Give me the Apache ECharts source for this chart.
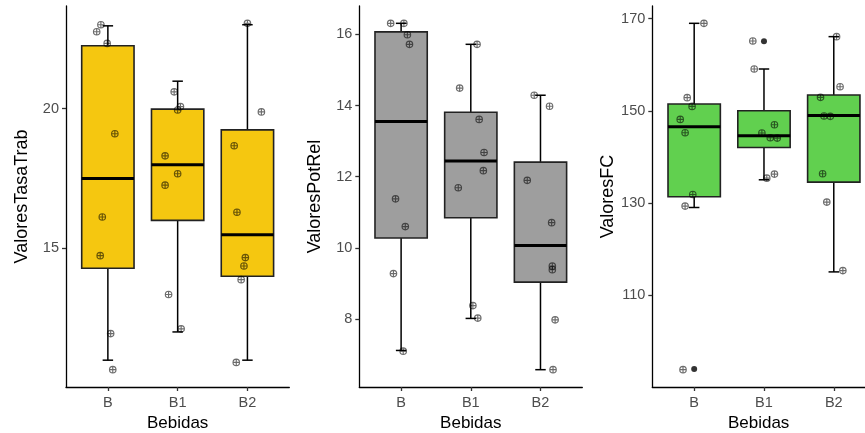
<!DOCTYPE html>
<html lang="es">
<head>
<meta charset="utf-8">
<title>Bebidas</title>
<script src="https://cdn.jsdelivr.net/npm/echarts@6/dist/echarts.min.js"></script>
<style>
  html, body { margin: 0; padding: 0; background: #fff; }
  #chart { width: 865px; height: 433px; }
</style>
</head>
<body>
<div id="chart"></div>
<script>
// categorias del eje x
const bebidas = ['B', 'B1', 'B2'];

// cajas: [bigote inf, Q1, mediana, Q3, bigote sup]
const tasaBox = [[11.0, 14.29, 17.5, 22.25, 22.96], [12.01, 16.0, 17.99, 19.98, 20.98], [11.0, 14.0, 15.49, 19.24, 23.0]];
const potBox = [[7.12, 10.28, 13.55, 16.07, 16.31], [8.02, 10.85, 12.44, 13.81, 15.72], [6.58, 9.04, 10.07, 12.41, 14.29]];
const fcBox = [[129.03, 131.35, 146.55, 151.48, 168.98], [135.04, 142.05, 144.6, 150.02, 159.07], [115.06, 134.54, 149.0, 153.43, 166.09]];

// puntos (jitter) por bebida
const tasaVals = [
    [23.0, 22.75, 22.33, 19.1, 16.12, 14.74, 11.95, 10.66],
    [20.6, 20.07, 19.95, 18.31, 17.67, 17.26, 13.35, 12.12],
    [23.05, 19.88, 18.67, 16.29, 14.67, 14.37, 13.88, 10.92]
];
const tasaJitter = [
    [-0.10, -0.16, -0.01, 0.10, -0.08, -0.11, 0.04, 0.07],
    [-0.05, 0.04, 0.0, -0.18, 0.0, -0.18, -0.13, 0.05],
    [0.0, 0.20, -0.19, -0.15, -0.03, -0.05, -0.09, -0.16]
];
const potVals = [
    [16.31, 16.31, 15.99, 15.72, 11.38, 10.6, 9.28, 7.1],
    [15.72, 14.49, 13.61, 12.68, 12.17, 11.69, 8.38, 8.03],
    [14.29, 13.98, 11.9, 10.71, 9.49, 9.39, 7.98, 6.58]
];
const potJitter = [
    [-0.15, 0.04, 0.09, 0.12, -0.08, 0.06, -0.11, 0.03],
    [0.09, -0.16, 0.12, 0.19, 0.18, -0.18, 0.03, 0.10],
    [-0.09, 0.13, -0.19, 0.16, 0.17, 0.17, 0.21, 0.18]
];
const fcVals = [
    [168.98, 152.85, 150.96, 148.13, 145.24, 131.85, 129.33, 93.85],
    [165.15, 159.07, 146.98, 145.18, 144.16, 144.09, 136.27, 135.4],
    [166.09, 155.23, 152.92, 148.87, 148.8, 136.34, 130.2, 115.35]
];
const fcJitter = [
    [0.14, -0.10, -0.03, -0.20, -0.13, -0.02, -0.13, -0.16],
    [-0.16, -0.14, 0.15, -0.03, 0.09, 0.19, 0.15, 0.04],
    [0.04, 0.09, -0.19, -0.14, -0.05, -0.16, -0.10, 0.13]
];

// atipicos del boxplot: [bebida, valor]
const tasaOut = [];
const potOut = [];
const fcOut = [[1, 94.0], [2, 165.07]];

// marcas del eje y
const tasaTicks = [15, 20];
const potTicks = [8, 10, 12, 14, 16];
const fcTicks = [110, 130, 150, 170];

const FONT = 'Liberation Sans, Arial, sans-serif';
const plusCircle = 'path://M5,0A5,5,0,1,1,5,10A5,5,0,1,1,5,0ZM5,0L5,10M0,5L10,5';

function makeBox(fill) {
    return function (params, api) {
        const x = api.value(0);
        const lo = api.coord([x, api.value(1)]);
        const q1 = api.coord([x, api.value(2)]);
        const md = api.coord([x, api.value(3)]);
        const q3 = api.coord([x, api.value(4)]);
        const hi = api.coord([x, api.value(5)]);
        const halfBox = api.size([0.75, 0])[0] / 2;
        const halfCap = api.size([0.15, 0])[0] / 2;
        const cx = lo[0];
        const bar = {stroke: '#000', lineWidth: 1.5};
        return {
            type: 'group',
            children: [
                {type: 'line', shape: {x1: cx, y1: lo[1], x2: cx, y2: hi[1]}, style: bar},
                {type: 'line', shape: {x1: cx - halfCap, y1: lo[1], x2: cx + halfCap, y2: lo[1]}, style: bar},
                {type: 'line', shape: {x1: cx - halfCap, y1: hi[1], x2: cx + halfCap, y2: hi[1]}, style: bar},
                {
                    type: 'rect',
                    shape: {x: cx - halfBox, y: q3[1], width: halfBox * 2, height: q1[1] - q3[1]},
                    style: {fill: fill, stroke: '#222', lineWidth: 1.6}
                },
                {type: 'line', shape: {x1: cx - halfBox, y1: md[1], x2: cx + halfBox, y2: md[1]}, style: {stroke: '#000', lineWidth: 3}}
            ]
        };
    };
}

function range(boxes, vals, outs) {
    let all = [];
    boxes.forEach(b => all = all.concat(b));
    vals.forEach(v => all = all.concat(v));
    outs.forEach(o => all.push(o[1]));
    const lo = Math.min.apply(null, all), hi = Math.max.apply(null, all);
    const pad = (hi - lo) * 0.05;
    return [lo - pad, hi + pad];
}

function panelSeries(idx, boxes, vals, jitter, outs, fill) {
    const boxData = boxes.map((b, i) => [i + 1].concat(b));
    const pts = [];
    vals.forEach((g, i) => g.forEach((v, j) => pts.push([i + 1 + jitter[i][j], v])));
    return [
        {
            type: 'custom', xAxisIndex: idx, yAxisIndex: idx, z: 2,
            data: boxData, encode: {x: 0, y: [1, 2, 3, 4, 5]},
            renderItem: makeBox(fill)
        },
        {
            type: 'scatter', xAxisIndex: idx, yAxisIndex: idx, z: 3,
            data: outs, symbol: 'circle', symbolSize: 6,
            itemStyle: {color: '#000'}
        },
        {
            type: 'scatter', xAxisIndex: idx, yAxisIndex: idx, z: 4,
            data: pts, symbol: plusCircle, symbolSize: 6.5,
            itemStyle: {color: 'transparent', borderColor: 'rgba(0,0,0,0.72)', borderWidth: 1.15}
        }
    ];
}

function xAxis(idx, max) {
    return {
        type: 'value', gridIndex: idx, min: 0.4, max: max,
        name: 'Bebidas', nameLocation: 'middle', nameGap: 23,
        nameTextStyle: {fontSize: 17, color: '#000', fontFamily: FONT},
        splitLine: {show: false},
        axisLine: {onZero: false, lineStyle: {color: '#000', width: 1.3}},
        axisTick: {length: 4, customValues: [1, 2, 3], lineStyle: {color: '#333', width: 1.3}},
        axisLabel: {
            customValues: [1, 2, 3], margin: 8, fontSize: 14.5, color: '#4D4D4D', fontFamily: FONT,
            formatter: v => bebidas[Math.round(v) - 1]
        }
    };
}

function yAxis(idx, ext, ticks, name) {
    return {
        type: 'value', gridIndex: idx, min: ext[0], max: ext[1],
        name: name, nameLocation: 'middle', nameGap: 35,
        nameTextStyle: {fontSize: 18, color: '#000', fontFamily: FONT},
        splitLine: {show: false},
        axisLine: {show: true, onZero: false, lineStyle: {color: '#000', width: 1.3}},
        axisTick: {show: true, length: 4, customValues: ticks, lineStyle: {color: '#333', width: 1.3}},
        axisLabel: {customValues: ticks, margin: 7, fontSize: 14.5, color: '#4D4D4D', fontFamily: FONT}
    };
}

const chart = echarts.init(document.getElementById('chart'));
chart.setOption({
    animation: false,
    backgroundColor: '#fff',
    grid: [
        {left: 66, top: 6, width: 223.3, height: 381, outerBoundsMode: 'none'},
        {left: 359.3, top: 6, width: 223, height: 381, outerBoundsMode: 'none'},
        {left: 652.3, top: 6, right: 0, height: 381, outerBoundsMode: 'none'}
    ],
    xAxis: [xAxis(0, 3.6), xAxis(1, 3.6), xAxis(2, 0.4 + 212.7 / 69.8)],
    yAxis: [
        yAxis(0, range(tasaBox, tasaVals, tasaOut), tasaTicks, 'ValoresTasaTrab'),
        yAxis(1, range(potBox, potVals, potOut), potTicks, 'ValoresPotRel'),
        yAxis(2, range(fcBox, fcVals, fcOut), fcTicks, 'ValoresFC')
    ],
    series: [].concat(
        panelSeries(0, tasaBox, tasaVals, tasaJitter, tasaOut, '#F5C710'),
        panelSeries(1, potBox, potVals, potJitter, potOut, '#9E9E9E'),
        panelSeries(2, fcBox, fcVals, fcJitter, fcOut, '#61D04F')
    )
});
</script>
</body>
</html>
